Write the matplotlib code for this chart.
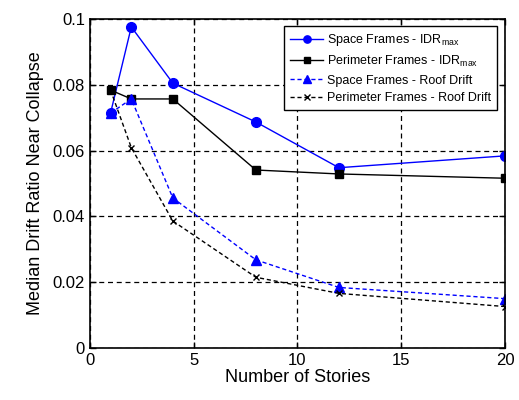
import numpy as np
import matplotlib
matplotlib.use("Agg")
import matplotlib.pyplot as plt

plt.rcParams['font.family'] = ['Liberation Sans', 'DejaVu Sans']

# Building heights (number of stories)
stories = [1, 2, 4, 8, 12, 20]

# Median drift ratios near collapse
space_idr = [0.0714, 0.0976, 0.0805, 0.0687, 0.0548, 0.0584]
perim_idr = [0.0784, 0.0757, 0.0757, 0.0541, 0.0529, 0.0516]
space_roof = [0.0714, 0.0757, 0.0456, 0.0268, 0.0184, 0.0150]
perim_roof = [0.0784, 0.0609, 0.0386, 0.0215, 0.0166, 0.0126]

fig = plt.figure(figsize=(5.19, 4.0), dpi=100)
ax = fig.add_axes([0.173, 0.13, 0.80, 0.8225])

ax.plot(stories, space_idr, color='#0000ff', marker='o', markersize=7, linewidth=1,
        label='Space Frames - IDR$_{\\mathregular{max}}$')
ax.plot(stories, perim_idr, color='black', marker='s', markersize=5.5, linewidth=1,
        label='Perimeter Frames - IDR$_{\\mathregular{max}}$')
ax.plot(stories, space_roof, color='#0000ff', marker='^', markersize=7, linewidth=1,
        linestyle=(0, (3, 2)), label='Space Frames - Roof Drift')
ax.plot(stories, perim_roof, color='black', marker='x', markersize=5, linewidth=1,
        linestyle=(0, (3, 2)), label='Perimeter Frames - Roof Drift')

ax.set_xlim(0, 20)
ax.set_ylim(0, 0.1)
ax.set_xticks([0, 5, 10, 15, 20])
ax.set_yticks([0, 0.02, 0.04, 0.06, 0.08, 0.1])
ax.set_yticklabels(['0', '0.02', '0.04', '0.06', '0.08', '0.1'])
ax.tick_params(direction='in', top=True, right=True, labelsize=12, length=4, width=1)
ax.grid(True, color='black', linestyle=(0, (4, 3)), linewidth=0.9)
for s in ax.spines.values():
    s.set_linewidth(1.2)

ax.set_xlabel('Number of Stories', fontsize=13, labelpad=1)
ax.set_ylabel('Median Drift Ratio Near Collapse', fontsize=13, labelpad=6)

leg = ax.legend(loc='upper right', fontsize=9, frameon=True, fancybox=False,
                edgecolor='black', framealpha=1, handlelength=2.6, borderpad=0.5,
                labelspacing=0.45, handletextpad=0.3, markerscale=0.75,
                borderaxespad=0, bbox_to_anchor=(0.981, 0.979))
leg.get_frame().set_linewidth(1)

fig.savefig('out.png', dpi=100)
